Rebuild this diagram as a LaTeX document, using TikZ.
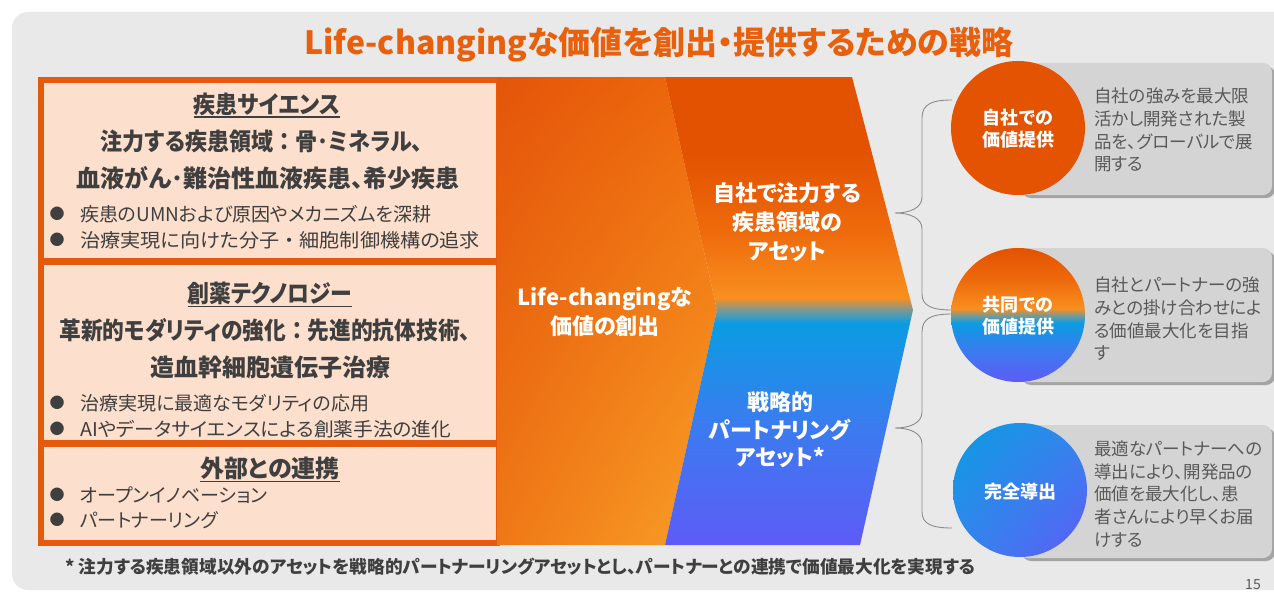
\documentclass[tikz,border=0pt]{standalone}
\usepackage{fontspec}
\usepackage{graphicx}
\setmainfont{Noto Sans CJK JP}
\newfontfamily\jpp{Noto Sans CJK JP}[RawFeature=+palt]
\newfontfamily\jpf{Noto Sans CJK JP}
\newcommand{\hsc}[2]{\scalebox{#1}[1]{#2}}
\usetikzlibrary{calc,shadings}
\definecolor{bgpanel}{HTML}{E9E9E9}
\definecolor{orframe}{HTML}{E65A0E}
\definecolor{peach}{HTML}{FCDFCC}
\definecolor{titleor}{HTML}{E8600C}
\definecolor{darktext}{HTML}{3F3F3F}
\definecolor{graytext}{HTML}{595959}
\definecolor{graybox}{HTML}{D4D4D4}
\definecolor{shadowc}{HTML}{A3A3A3}
\definecolor{or1}{HTML}{E35200}
\definecolor{or2}{HTML}{EE6A0C}
\definecolor{or3}{HTML}{F98F1F}
\definecolor{orul}{HTML}{E4550A}
\definecolor{orlr}{HTML}{F9A028}
\definecolor{orll}{HTML}{EF7816}
\definecolor{tealmix}{HTML}{6F9A9C}
\definecolor{bl1}{HTML}{0A9CE2}
\definecolor{bl2}{HTML}{3A7CEF}
\definecolor{blmid}{HTML}{3486EC}
\definecolor{pu1}{HTML}{5E5BF7}
\definecolor{braceg}{HTML}{8C8C8C}
\pgfdeclareverticalshading{chevsh}{100bp}{color(0bp)=(pu1); color(25bp)=(pu1); color(38bp)=(bl2); color(48.7bp)=(bl1); color(50.0bp)=(tealmix); color(51.4bp)=(or3); color(58.6bp)=(or2); color(67bp)=(or1); color(100bp)=(or1)}
\pgfdeclareverticalshading{circsh}{100bp}{color(0bp)=(pu1); color(25bp)=(pu1); color(37bp)=(bl2); color(47bp)=(bl1); color(49.6bp)=(tealmix); color(52.4bp)=(or3); color(63bp)=(or2); color(75bp)=(or1); color(100bp)=(or1)}
\tikzset{
  peachbox/.style={fill=peach, draw=none},
  ltitle/.style={font=\jpp\bfseries\fontsize{24}{28}\selectfont, text=darktext, inner sep=0pt},
  lbold/.style={font=\jpp\bfseries\fontsize{24}{28}\selectfont, text=darktext, inner sep=0pt},
  lbul/.style={font=\jpp\fontsize{19}{22}\selectfont, text=darktext, inner sep=0pt, anchor=west},
  bulletdot/.style={font=\fontsize{15}{18}\selectfont, text=darktext, inner sep=0pt},
  ulline/.style={draw=darktext, line width=1.2pt},
  midtext/.style={font=\jpp\bfseries\fontsize{22}{29}\selectfont, text=white, align=center, inner sep=0pt},
  circtext/.style={font=\jpp\bfseries\fontsize{18}{22}\selectfont, text=white, align=center, inner sep=0pt},
  rtext/.style={font=\jpp\fontsize{17.5}{22.7}\selectfont, text=graytext, align=left, anchor=west, inner sep=0pt},
  gbox/.style={fill=graybox, rounded corners=9pt},
  gshadow/.style={fill=shadowc, rounded corners=9pt},
  brc/.style={draw=braceg, line width=0.9pt},
}
\begin{document}
\begin{tikzpicture}[x=1pt,y=-1pt]
\useasboundingbox (0,0) rectangle (1274,594);
\fill[white] (0,0) rectangle (1274,594);
\fill[bgpanel, rounded corners=16pt] (12,12) rectangle (1300,590);
% title
\node[font=\jpp\bfseries\fontsize{32}{36}\selectfont, text=titleor, inner sep=0pt] (title) at (659,45) {Life-changingな価値を創出・提供するための戦略};
% left frame
\fill[orframe] (38,77) rectangle (500,546);
% left orange region
\shade[upper left=orul, upper right=or2, lower left=orll, lower right=orlr]
  (497,77) -- (665,77) -- (717,310) -- (665,545) -- (497,545) -- cycle;
% chevron right part
\shade[shading=chevsh] (665,77) -- (852,77) -- (913,310) -- (860,545) -- (665,545) -- (717,310) -- cycle;
% peach boxes
\fill[peachbox] (44,83) rectangle (496,258);
\fill[peachbox] (44,265) rectangle (496,440);
\fill[peachbox] (44,447) rectangle (496,540);
% box 1 texts
\node[ltitle] (h1) at (267,104) {\hsc{0.92}{疾患サイエンス}};
\draw[ulline] ([yshift=-4pt]h1.base west) -- ([yshift=-4pt]h1.base east);
\node[lbold] (b1a) at (262,141) {\hsc{0.92}{注力する疾患領域{\jpf ：}骨･ミネラル、}};
\node[lbold] (b1b) at (268,178) {血液がん･難治性血液疾患、希少疾患};
\node[bulletdot] (d1a) at (57,214) {●};
\node[lbul] (t1a) at (80,214) {疾患のUMNおよび原因やメカニズムを深耕};
\node[bulletdot] (d1b) at (57,240) {●};
\node[lbul] (t1b) at (80,240) {\hsc{1.06}{治療実現に向けた分子{\jpf ・}細胞制御機構の追求}};
% box 2 texts
\node[ltitle] (h2) at (270,293) {\hsc{0.91}{創薬テクノロジー}};
\draw[ulline] ([yshift=-4pt]h2.base west) -- ([yshift=-4pt]h2.base east);
\node[lbold] (b2a) at (265,330) {\hsc{0.905}{革新的モダリティの強化{\jpf ：}先進的抗体技術、}};
\node[lbold] (b2b) at (270,367) {造血幹細胞遺伝子治療};
\node[bulletdot] (d2a) at (57,403) {●};
\node[lbul] (t2a) at (80,403) {治療実現に最適なモダリティの応用};
\node[bulletdot] (d2b) at (57,429) {●};
\node[lbul] (t2b) at (80,429) {\hsc{1.036}{AIやデータサイエンスによる創薬手法の進化}};
% box 3 texts
\node[ltitle] (h3) at (270,468) {外部との連携};
\draw[ulline] ([yshift=-4pt]h3.base west) -- ([yshift=-4pt]h3.base east);
\node[bulletdot] (d3a) at (57,495) {●};
\node[lbul] (t3a) at (80,495) {オープンイノベーション};
\node[bulletdot] (d3b) at (57,520) {●};
\node[lbul] (t3b) at (80,520) {パートナーリング};
% middle texts
\node[midtext] (lc) at (605,312) {Life-changingな\\価値の創出};
\node[midtext] (own) at (787,222) {自社で注力する\\疾患領域の\\アセット};
\node[midtext, font=\jpp\bfseries\fontsize{22}{27.5}\selectfont] (strat) at (780,430) {戦略的\\パートナリング\\アセット*};
% braces
\coordinate (b1top) at (952,100);
\coordinate (b1tip) at (895,213);
\coordinate (b1bot) at (952,310);
\coordinate (b2top) at (952,314);
\coordinate (b2tip) at (895,428);
\coordinate (b2bot) at (952,528);
\draw[brc] (b1top) .. controls (932,100) and (922,104) .. (922,118) -- (922,197) .. controls (922,208) and (910,213) .. (b1tip) .. controls (910,213) and (922,218) .. (922,229) -- (922,294) .. controls (922,306) and (932,310) .. (b1bot);
\draw[brc] (b2top) .. controls (932,314) and (922,318) .. (922,332) -- (922,412) .. controls (922,423) and (910,428) .. (b2tip) .. controls (910,428) and (922,433) .. (922,444) -- (922,512) .. controls (922,524) and (932,528) .. (b2bot);
% gray boxes
\fill[gshadow] (1022,66) rectangle (1275,198);
\fill[gbox] (1018,63) rectangle (1272,195);
\fill[gshadow] (1022,251) rectangle (1275,385);
\fill[gbox] (1018,248) rectangle (1272,382);
\fill[gshadow] (1022,428) rectangle (1275,561);
\fill[gbox] (1018,425) rectangle (1272,558);
% circles
\fill[or1!85!orframe] (1018,128) circle (67);
\shade[shading=circsh] (1018,315) circle (67);
\shade[upper left=bl1, upper right=blmid, lower left=blmid, lower right=pu1] (1020,490) circle (67);
\node[circtext] (c1) at (1018,129) {自社での\\価値提供};
\node[circtext] (c2) at (1018,316) {共同での\\価値提供};
\node[circtext] (c3) at (1020,492) {完全導出};
% right texts
\node[rtext] (r1) at (1094,130) {自社の強みを最大限\\活かし開発された製\\品を、グローバルで展\\開する};
\node[rtext] (r2) at (1094,319) {自社とパートナーの強\\みとの掛け合わせによ\\る価値最大化を目指\\す};
\node[rtext] (r3) at (1094,494) {最適なパートナーへの\\導出により、開発品の\\価値を最大化し、患\\者さんにより早くお届\\けする};
% footnote
\node[font=\jpp\bfseries\fontsize{17.7}{20}\selectfont, text=darktext, anchor=west, inner sep=0pt] (fn) at (65,567) {* 注力する疾患領域以外のアセットを戦略的パートナーリングアセットとし、パートナーとの連携で価値最大化を実現する};
\node[font=\fontsize{14}{16}\selectfont, text=graytext, inner sep=0pt] (pg) at (1253,585) {15};
\end{tikzpicture}
\end{document}
